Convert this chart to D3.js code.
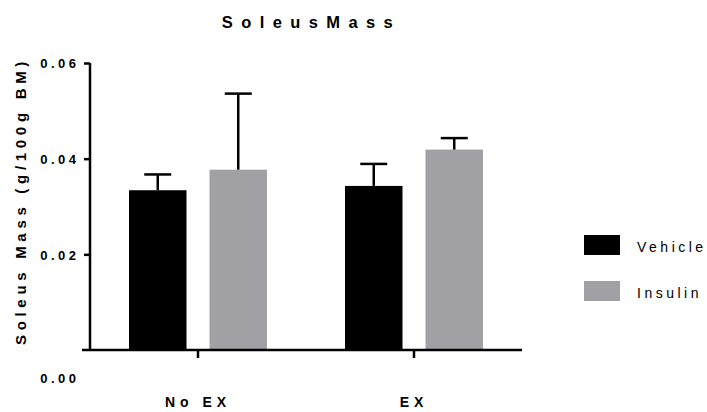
<!DOCTYPE html>
<html>
<head>
<meta charset="utf-8">
<script src="https://cdn.jsdelivr.net/npm/d3@7"></script>
<style>
  body { margin: 0; background: #fff; }
  svg text { font-family: "Liberation Sans", Arial, sans-serif; fill: #000; }
</style>
</head>
<body>
<svg id="chart" width="707" height="412"></svg>
<script>
// data
var groups = ["No EX", "EX"];
var series = ["Vehicle", "Insulin"];
var vehicleMean = [0.0334, 0.0343];
var vehicleErr = [0.0033, 0.0046];
var insulinMean = [0.0377, 0.0419];
var insulinErr = [0.0159, 0.0024];
var yTicks = [0.02, 0.04, 0.06];
var colors = ["#000000", "#a1a0a5"];

var svg = d3.select("#chart");

var x0 = d3.scaleBand().domain(groups).range([90, 522]).padding(0);
var x1 = d3.scaleBand().domain(series).range([-69, 69]).paddingInner(0.2857);
var y = d3.scaleLinear().domain([0, 0.06]).range([350, 63]);

var rows = [];
groups.forEach(function(g, i) {
  rows.push({group: g, s: "Vehicle", v: vehicleMean[i], e: vehicleErr[i], c: colors[0]});
  rows.push({group: g, s: "Insulin", v: insulinMean[i], e: insulinErr[i], c: colors[1]});
});

//bars
svg.append("g").selectAll("rect").data(rows).join("rect")
  .attr("x", d => x0(d.group) + x0.bandwidth()/2 + x1(d.s))
  .attr("width", x1.bandwidth())
  .attr("y", d => y(d.v))
  .attr("height", d => y(0) - y(d.v))
  .attr("fill", d => d.c);

//error bars (upper only)
var eb = svg.append("g").attr("stroke", "#000").attr("stroke-width", 2.5);
rows.forEach(function(d) {
  var cx = x0(d.group) + x0.bandwidth()/2 + x1(d.s) + x1.bandwidth()/2;
  eb.append("line").attr("x1", cx).attr("x2", cx).attr("y1", y(d.v)).attr("y2", y(d.v + d.e));
  eb.append("line").attr("x1", cx - 13.5).attr("x2", cx + 13.5).attr("y1", y(d.v + d.e)).attr("y2", y(d.v + d.e));
});

//y axis
var yAxis = svg.append("g").attr("transform", "translate(90,0)")
  .call(d3.axisLeft(y).tickValues(yTicks).tickSize(6).tickFormat(d3.format(".2f")));
yAxis.select(".domain").attr("d", "M0," + y(0) + "V" + y(0.06)).attr("stroke-width", 2.5);
yAxis.selectAll(".tick line").attr("stroke-width", 2.5);
yAxis.selectAll(".tick text").attr("x", -10.5).attr("dy", "0.36em").style("font-size", "13px")
  .style("font-weight", "bold").style("letter-spacing", "3.5px");

// zero label sits below the baseline in the original
svg.append("text").attr("x", 79.5).attr("y", 383).attr("text-anchor", "end")
  .style("font-size", "13px").style("font-weight", "bold").style("letter-spacing", "3.5px")
  .text(d3.format(".2f")(0));

//x axis
var xAxis = svg.append("g").attr("transform", "translate(0," + y(0) + ")")
  .call(d3.axisBottom(x0).tickSize(8).tickFormat(""));
xAxis.select(".domain").attr("d", "M82,0H522").attr("stroke-width", 2.5);
xAxis.selectAll(".tick line").attr("stroke-width", 2.5).attr("y1", 1);

svg.append("g").selectAll("text").data(groups).join("text")
  .attr("x", d => x0(d) + x0.bandwidth()/2)
  .attr("y", 407)
  .attr("text-anchor", "middle")
  .style("font-size", "14px").style("font-weight", "bold").style("letter-spacing", "5px")
  .text(d => d);

//title
svg.append("text").attr("x", 311.5).attr("y", 28).attr("text-anchor", "middle")
  .style("font-size", "16.5px").style("font-weight", "bold").style("letter-spacing", "8.4px")
  .text("SoleusMass");

//y title
svg.append("text").attr("transform", "translate(26,201) rotate(-90)").attr("text-anchor", "middle")
  .style("font-size", "15px").style("font-weight", "bold").style("letter-spacing", "4.7px")
  .text("Soleus Mass (g/100g BM)");

//legend
var leg = svg.append("g").selectAll("g").data(series).join("g")
  .attr("transform", (d, i) => "translate(584," + (235 + i*46) + ")");
leg.append("rect").attr("width", 36).attr("height", 20).attr("fill", (d, i) => colors[i]);
leg.append("text").attr("x", 53).attr("y", 17)
  .style("font-size", "14px").style("letter-spacing", "3.5px")
  .text(d => d);
</script>
</body>
</html>
